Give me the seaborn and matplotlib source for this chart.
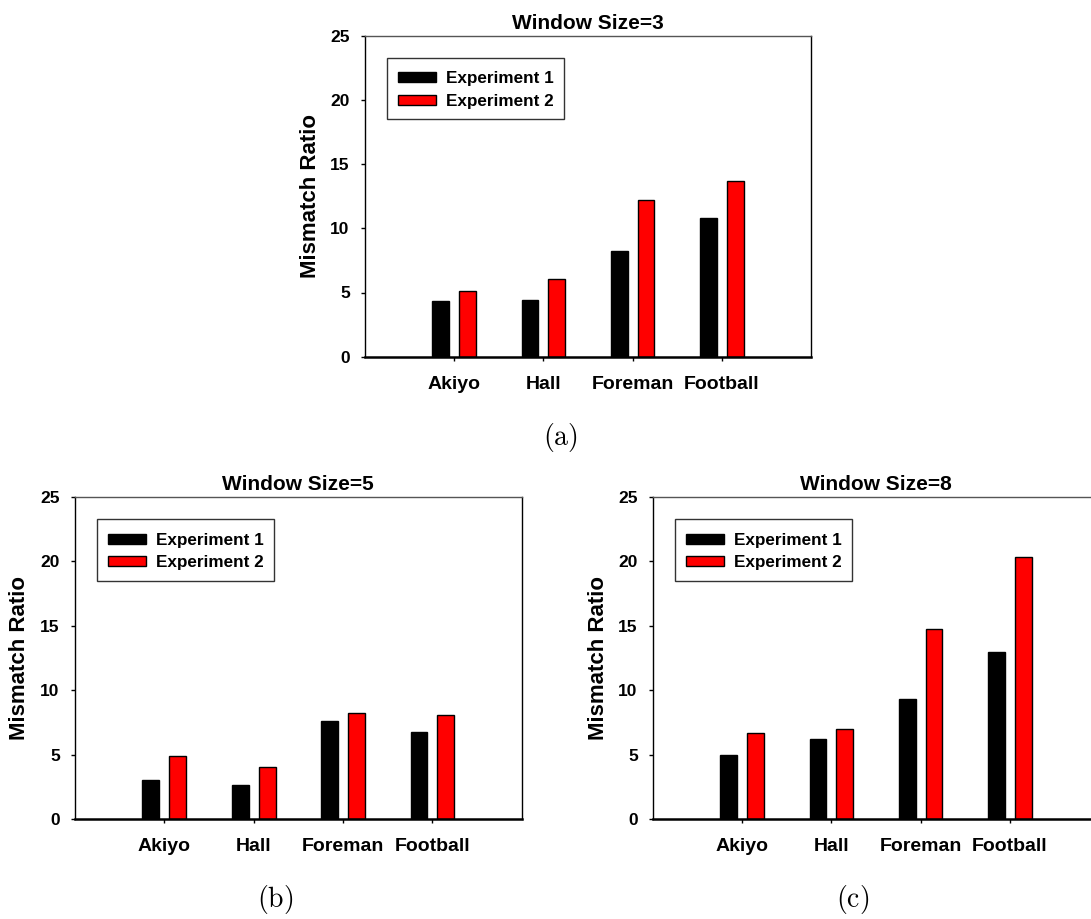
import matplotlib
matplotlib.use("Agg")
import matplotlib.pyplot as plt
import matplotlib.patches as mpatches
from matplotlib.legend_handler import HandlerPatch
import seaborn as sns
import pandas as pd

# Mismatch ratio per test sequence, for three window sizes
sequences = ["Akiyo", "Hall", "Foreman", "Football"]
experiments = ["Experiment 1", "Experiment 2"]

ws3_exp1 = [4.37, 4.40, 8.25, 10.83]
ws3_exp2 = [5.09, 6.08, 12.20, 13.68]

ws5_exp1 = [3.03, 2.64, 7.62, 6.79]
ws5_exp2 = [4.87, 4.04, 8.21, 8.08]

ws8_exp1 = [4.98, 6.20, 9.28, 12.94]
ws8_exp2 = [6.64, 6.98, 14.76, 20.31]

panels = [
    ("Window Size=3", ws3_exp1, ws3_exp2, "(a)"),
    ("Window Size=5", ws5_exp1, ws5_exp2, "(b)"),
    ("Window Size=8", ws8_exp1, ws8_exp2, "(c)"),
]
y_ticks = [0, 5, 10, 15, 20, 25]
bar_colors = ["#000000", "#ff0000"]

sns.set_theme(style="ticks")
plt.rcParams["font.family"] = ["Liberation Sans", "DejaVu Sans"]
plt.rcParams["font.weight"] = "bold"
plt.rcParams["mathtext.fontset"] = "cm"
plt.rcParams["text.color"] = "black"
plt.rcParams["axes.labelcolor"] = "black"
plt.rcParams["xtick.color"] = "black"
plt.rcParams["ytick.color"] = "black"
plt.rcParams["xtick.labelcolor"] = "black"
plt.rcParams["ytick.labelcolor"] = "black"

W, H = 1091, 919
fig = plt.figure(figsize=(W / 100, H / 100), dpi=100)
fig.patch.set_facecolor("white")


def rect(left, right, top, bottom):
    return [left / W, 1 - bottom / H, (right - left) / W, (bottom - top) / H]


axes = [
    fig.add_axes(rect(365, 811, 35.7, 356.7)),
    fig.add_axes(rect(75, 521.7, 497, 819)),
    fig.add_axes(rect(653, 1099, 497, 819)),
]
captions_xy = [(560, 438), (275, 900), (853, 900)]


def panel_frame(exp1, exp2):
    rows = []
    for exp_name, vals in zip(experiments, [exp1, exp2]):
        for seq, v in zip(sequences, vals):
            rows.append({"Sequence": seq, "Experiment": exp_name, "Ratio": v})
    return pd.DataFrame(rows)


def flat_key(legend, orig_handle, xdescent, ydescent, width, height, fontsize):
    # thin bar swatch, vertically centred in a taller row
    h = 0.585 * fontsize
    return mpatches.Rectangle((-xdescent, -ydescent + (height - h) / 2), width, h)


for ax, (title, e1, e2, cap), (cx, cy) in zip(axes, panels, captions_xy):
    df = panel_frame(e1, e2)
    sns.barplot(
        data=df, x="Sequence", y="Ratio", hue="Experiment",
        order=sequences, hue_order=experiments, palette=bar_colors,
        saturation=1, width=0.6, gap=0.37, edgecolor="black", linewidth=1.0,
        errorbar=None, ax=ax,
    )
    ax.set_facecolor("white")
    ax.set_xlim(-1, 4)
    ax.set_ylim(0, 25)
    ax.set_yticks(y_ticks)
    ax.set_yticklabels([str(t) for t in y_ticks], fontsize=12.5,
                       fontweight="bold", color="black")
    ax.set_xticks(range(len(sequences)))
    ax.set_xticklabels(sequences, fontsize=14, fontweight="bold", color="black")
    ax.set_xlabel("")
    ax.set_ylabel("Mismatch Ratio", fontsize=16, fontweight="bold",
                  labelpad=7, color="black")
    ax.set_title(title, fontsize=15, fontweight="bold", pad=5, color="black")

    ax.tick_params(axis="x", direction="out", length=3, width=1, pad=11,
                   colors="black", bottom=True)
    ax.tick_params(axis="y", direction="out", length=3, width=1, pad=8,
                   colors="black", left=True)

    for side in ["left", "right", "top", "bottom"]:
        ax.spines[side].set_visible(True)
        ax.spines[side].set_color("black")
        ax.spines[side].set_linewidth(1.0)
    ax.spines["bottom"].set_linewidth(1.8)
    ax.spines["top"].set_color("#555555")

    old = ax.get_legend()
    labels = [t.get_text() for t in old.get_texts()]
    old.remove()
    handles = [mpatches.Patch(facecolor=c, edgecolor="black", linewidth=1.0)
               for c in bar_colors]
    leg = ax.legend(
        handles, labels, loc="upper left", bbox_to_anchor=(0.05, 0.931),
        borderaxespad=0, frameon=True, fancybox=False, shadow=False,
        prop={"family": "Liberation Sans", "weight": "bold", "size": 12.3},
        handlelength=2.25, handleheight=1.3, handletextpad=0.6,
        labelspacing=0.22, borderpad=0.6,
        handler_map={mpatches.Patch: HandlerPatch(patch_func=flat_key)},
    )
    leg.get_frame().set_edgecolor("black")
    leg.get_frame().set_linewidth(1.0)
    for t in leg.get_texts():
        t.set_color("black")

    fig.text(cx / W, 1 - cy / H, r"$\mathrm{" + cap + "}$", ha="center",
             va="center", fontsize=20, color="black")

fig.savefig("out.png", dpi=100, facecolor="white")
